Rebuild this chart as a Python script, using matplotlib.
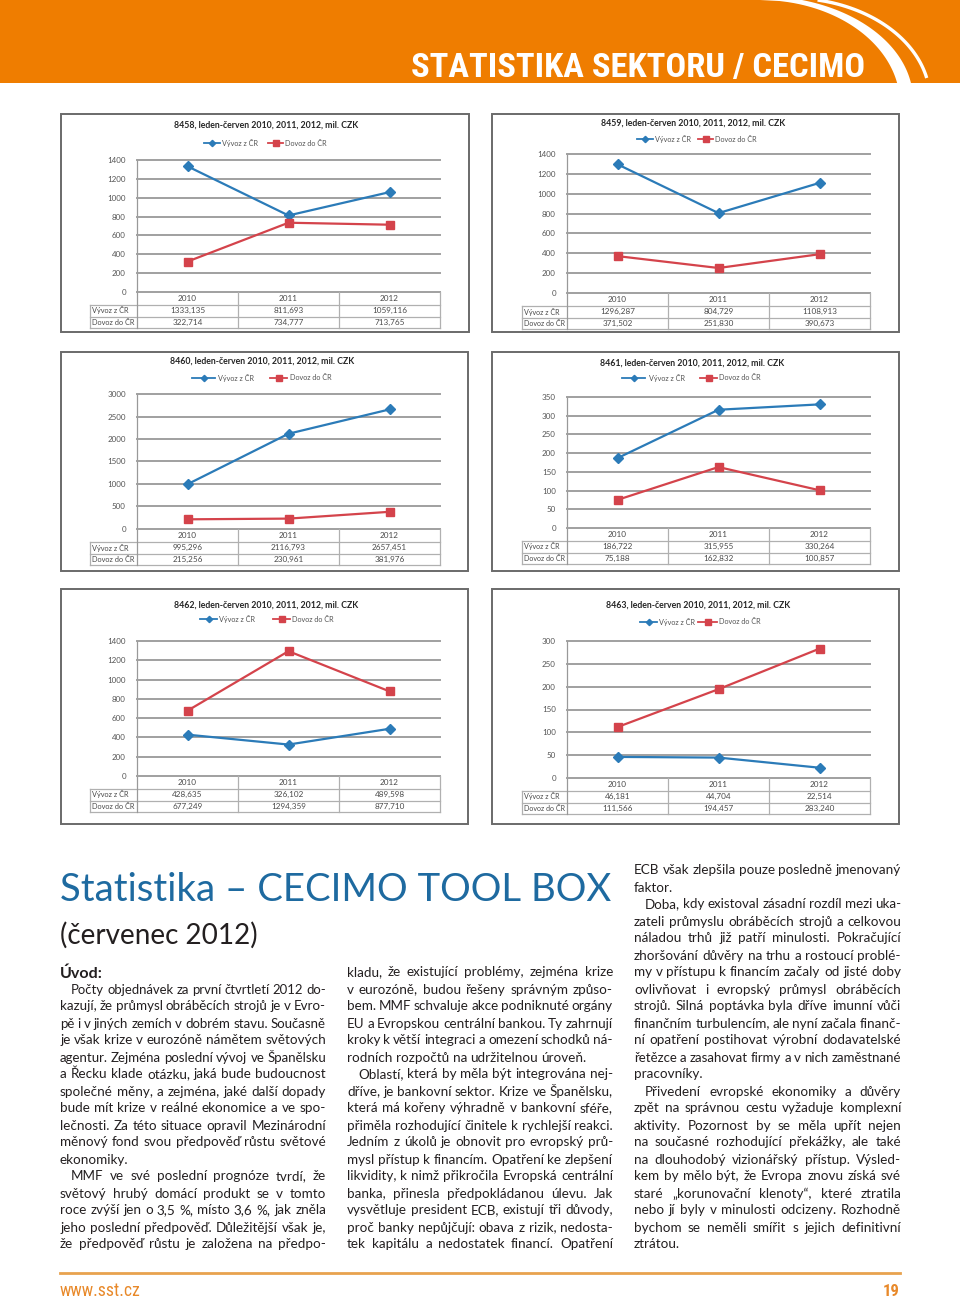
import numpy as np
import matplotlib
matplotlib.use('Agg')
import matplotlib.pyplot as plt
from matplotlib.patches import Rectangle, Polygon
import matplotlib.transforms as mtransforms

# ---------------- data ----------------
years = ['2010', '2011', '2012']
series_labels = ['Vývoz z ČR', 'Dovoz do ČR']
chart_codes = ['8458', '8459', '8460', '8461', '8462', '8463']
title_suffix = ', leden-červen 2010, 2011, 2012, mil. CZK'

vyvoz_8458 = [1333.135, 811.693, 1059.116]
dovoz_8458 = [322.714, 734.777, 713.765]
vyvoz_8459 = [1296.287, 804.729, 1108.913]
dovoz_8459 = [371.502, 251.830, 390.673]
vyvoz_8460 = [995.296, 2116.793, 2657.451]
dovoz_8460 = [215.256, 230.961, 381.976]
vyvoz_8461 = [186.722, 315.955, 330.264]
dovoz_8461 = [75.188, 162.832, 100.857]
vyvoz_8462 = [428.635, 326.102, 489.598]
dovoz_8462 = [677.249, 1294.359, 877.710]
vyvoz_8463 = [46.181, 44.704, 22.514]
dovoz_8463 = [111.566, 194.457, 283.240]

vyvoz_all = [vyvoz_8458, vyvoz_8459, vyvoz_8460, vyvoz_8461, vyvoz_8462, vyvoz_8463]
dovoz_all = [dovoz_8458, dovoz_8459, dovoz_8460, dovoz_8461, dovoz_8462, dovoz_8463]
y_max = [1400, 1400, 3000, 350, 1400, 300]
y_step = [200, 200, 500, 50, 200, 50]

header_text = 'STATISTIKA SEKTORU / CECIMO'
main_title = 'Statistika – CECIMO TOOL BOX'
sub_title = '(červenec 2012)'
intro_head = 'Úvod:'
footer_left = 'www.sst.cz'
footer_right = '19'

col1_paras = [
    (True, False, [
        'Počty objednávek za první čtvrtletí 2012 do-',
        'kazují, že průmysl obráběcích strojů je v Evro-',
        'pě i v jiných zemích v dobrém stavu. Současně',
        'je však krize v eurozóně námětem světových',
        'agentur. Zejména poslední vývoj ve Španělsku',
        'a Řecku klade otázku, jaká bude budoucnost',
        'společné měny, a zejména, jaké další dopady',
        'bude mít krize v reálné ekonomice a ve spo-',
        'lečnosti. Za této situace opravil Mezinárodní',
        'měnový fond svou předpověď růstu světové',
        'ekonomiky.']),
    (True, True, [
        'MMF ve své poslední prognóze tvrdí, že',
        'světový hrubý domácí produkt se v tomto',
        'roce zvýší jen o 3,5 %, místo 3,6 %, jak zněla',
        'jeho poslední předpověď. Důležitější však je,',
        'že předpověď růstu je založena na předpo-']),
]
col2_paras = [
    (False, False, [
        'kladu, že existující problémy, zejména krize',
        'v eurozóně, budou řešeny správným způso-',
        'bem. MMF schvaluje akce podniknuté orgány',
        'EU a Evropskou centrální bankou. Ty zahrnují',
        'kroky k větší integraci a omezení schodků ná-',
        'rodních rozpočtů na udržitelnou úroveň.']),
    (True, True, [
        'Oblastí, která by měla být integrována nej-',
        'dříve, je bankovní sektor. Krize ve Španělsku,',
        'která má kořeny výhradně v bankovní sféře,',
        'přiměla rozhodující činitele k rychlejší reakci.',
        'Jedním z úkolů je obnovit pro evropský prů-',
        'mysl přístup k financím. Opatření ke zlepšení',
        'likvidity, k nimž přikročila Evropská centrální',
        'banka, přinesla předpokládanou úlevu. Jak',
        'vysvětluje president ECB, existují tři důvody,',
        'proč banky nepůjčují: obava z rizik, nedosta-',
        'tek kapitálu a nedostatek financí. Opatření']),
]
col3_paras = [
    (False, False, [
        'ECB však zlepšila pouze posledně jmenovaný',
        'faktor.']),
    (True, False, [
        'Doba, kdy existoval zásadní rozdíl mezi uka-',
        'zateli průmyslu obráběcích strojů a celkovou',
        'náladou trhů již patří minulosti. Pokračující',
        'zhoršování důvěry na trhu a rostoucí problé-',
        'my v přístupu k financím začaly od jisté doby',
        'ovlivňovat i evropský průmysl obráběcích',
        'strojů. Silná poptávka byla dříve imunní vůči',
        'finančním turbulencím, ale nyní začala finanč-',
        'ní opatření postihovat výrobní dodavatelské',
        'řetězce a zasahovat firmy a v nich zaměstnané',
        'pracovníky.']),
    (True, False, [
        'Přivedení evropské ekonomiky a důvěry',
        'zpět na správnou cestu vyžaduje komplexní',
        'aktivity. Pozornost by se měla upřít nejen',
        'na současné rozhodující překážky, ale také',
        'na dlouhodobý vizionářský přístup. Výsled-',
        'kem by mělo být, že Evropa znovu získá své',
        'staré „korunovační klenoty“, které ztratila',
        'nebo jí byly v minulosti odcizeny. Rozhodně',
        'bychom se neměli smířit s jejich definitivní',
        'ztrátou.']),
]

# ---------------- style / layout ----------------
W, H = 960, 1301
FONT = 'Lato'
plt.rcParams['font.family'] = [FONT, 'DejaVu Sans']
ORANGE = '#ef7d00'
BLUE = '#2b7bb8'
RED = '#d4434b'
GRID = '#a0a0a0'
TBL = '#b0b0b0'
CHART_TXT = '#4a4a4a'

fig = plt.figure(figsize=(W / 100, H / 100), dpi=100)
bg = fig.add_axes([0, 0, 1, 1])
bg.set_xlim(0, W)
bg.set_ylim(H, 0)
bg.axis('off')
renderer = fig.canvas.get_renderer()

COND = ['Liberation Sans Narrow', 'Roboto Condensed', 'Open Sans Condensed', FONT, 'DejaVu Sans']


def measure(s, size, family=None, weight='normal'):
    fam = family if family is not None else [FONT, 'DejaVu Sans']
    t = bg.text(0, 0, s, fontsize=size, family=fam, weight=weight)
    w = t.get_window_extent(renderer=renderer).width
    t.remove()
    return w


def fit(s, width, family=None, weight='normal', base=20.0):
    return base * width / measure(s, base, family, weight)


# ---------------- header ----------------
bg.add_patch(Rectangle((0, 0), W, 83, color=ORANGE, lw=0))
yy = np.linspace(0, 83, 80)
cx, cy = 760, 100
xo = cx + 153 * np.sqrt(np.clip(1 - ((yy - cy) / 104) ** 2, 0, 1))
xi = cx + 140 * np.sqrt(np.clip(1 - ((yy - 104) / 104) ** 2, 0, 1))
pts = np.vstack([np.column_stack([xo, yy]), np.column_stack([xi[::-1], yy[::-1]])])
bg.add_patch(Polygon(pts, closed=True, color='white', lw=0))
yt = np.linspace(0, 78, 60)
xt = 790 + 140 * np.sqrt(np.clip(1 - ((yt - 100) / 102) ** 2, 0, 1))
bg.plot(xt, yt, color='white', lw=2.4, solid_capstyle='butt')

hs = fit(header_text, 453, family=COND, weight='bold')
bg.text(865, 77, header_text, fontsize=min(hs, 27), family=COND, weight='bold',
        color='white', ha='right', va='baseline')

# ---------------- charts ----------------
panels = [(61, 114, 469, 332), (492, 114, 899, 332), (61, 352, 468, 571),
          (492, 352, 899, 571), (61, 589, 468, 824), (492, 589, 899, 824)]
plots = [(137, 160, 440, 292), (567, 154, 870, 293), (137, 394, 440, 529),
         (567, 397, 870, 528), (137, 641, 440, 776), (567, 641, 870, 778)]
table_left = [90, 522, 90, 522, 90, 522]
title_pos = [(266, 125), (693, 123), (262, 361), (692, 363), (266, 605), (698, 605)]
legend_pos = [((204, 220, 222), (268, 283, 285), 143),
              ((637, 653, 655), (698, 713, 715), 139),
              ((192, 215, 218), (270, 287, 290), 378),
              ((622, 645, 649), (700, 717, 719), 378),
              ((200, 217, 219), (273, 290, 292), 619),
              ((640, 657, 659), (698, 717, 719), 622)]
LEG_FS = fit(series_labels[1], 42)

for i in range(6):
    px0, py0, px1, py1 = panels[i]
    bg.add_patch(Rectangle((px0, py0), px1 - px0, py1 - py0, facecolor='white',
                           edgecolor='#6a6a6a', lw=1.4))
    l, t, r, b = plots[i]
    ax = fig.add_axes([l / W, 1 - b / H, (r - l) / W, (b - t) / H])
    ax.patch.set_alpha(0)
    x = np.arange(len(years))
    ax.set_xlim(-0.5, len(years) - 0.5)
    ax.set_ylim(0, y_max[i])
    ax.set_yticks(np.arange(0, y_max[i] + 1, y_step[i]))
    ax.set_xticks([])
    for sp in ax.spines.values():
        sp.set_visible(False)
    ax.yaxis.grid(True, color=GRID, lw=1.4)
    for gl in ax.get_ygridlines():
        gl.set_clip_on(False)
    ax.set_axisbelow(True)
    ax.tick_params(axis='y', length=0, pad=8, labelsize=5.8, labelcolor='#555555')
    ax.plot(x, vyvoz_all[i], color=BLUE, lw=1.6, marker='D', ms=4.8, zorder=3, clip_on=False)
    ax.plot(x, dovoz_all[i], color=RED, lw=1.6, marker='s', ms=5.8, zorder=3, clip_on=False)

    # title
    ttl = chart_codes[i] + title_suffix
    tx, ty = title_pos[i]
    bg.text(tx, ty, ttl, fontsize=fit(ttl, 186, weight='bold'), weight='bold',
            color='#262626', ha='center', va='center')
    # legend
    (b0, b1, bt), (r0, r1, rt), ly = legend_pos[i]
    bg.plot([b0, b1], [ly, ly], color=BLUE, lw=1.3)
    bg.plot([(b0 + b1) / 2], [ly], color=BLUE, marker='D', ms=3.2)
    bg.text(bt, ly, series_labels[0], fontsize=LEG_FS, color='#555555', va='center', ha='left')
    bg.plot([r0, r1], [ly, ly], color=RED, lw=1.3)
    bg.plot([(r0 + r1) / 2], [ly], color=RED, marker='s', ms=3.8)
    bg.text(rt, ly, series_labels[1], fontsize=LEG_FS, color='#555555', va='center', ha='left')

    # data table
    tr = mtransforms.blended_transform_factory(ax.transData, bg.transData)
    y_axis = b
    y_l1, y_l2, y_l3 = b + 12.5, b + 24.5, b + 36
    tl = table_left[i]
    for yl in (y_l1, y_l2, y_l3):
        bg.plot([tl, r], [yl, yl], color=TBL, lw=0.9)
    bg.plot([tl, tl], [y_l1, y_l3], color=TBL, lw=0.9)
    bg.plot([l, l], [t, y_l3], color='#999999', lw=0.9)
    for xb in np.arange(len(years) + 1)[1:] - 0.5:
        ax.plot([xb, xb], [y_axis, y_l3], color=TBL, lw=0.9, transform=tr, clip_on=False)
    for j, yr in enumerate(years):
        ax.text(j, b + 6.5, yr, transform=tr, ha='center', va='center', fontsize=5.9, color=CHART_TXT)
        ax.text(j, b + 18.5, f'{vyvoz_all[i][j]:.3f}'.replace('.', ','), transform=tr,
                ha='center', va='center', fontsize=5.9, color=CHART_TXT)
        ax.text(j, b + 30.5, f'{dovoz_all[i][j]:.3f}'.replace('.', ','), transform=tr,
                ha='center', va='center', fontsize=5.9, color=CHART_TXT)
    lab_w = l - tl - 4
    for k, yv in enumerate((b + 18.5, b + 30.5)):
        bg.text(tl + 2, yv, series_labels[k], fontsize=min(5.6, fit(series_labels[1], lab_w)),
                color=CHART_TXT, va='center', ha='left')

# ---------------- article ----------------
TITLE_BLUE = '#1e6aa0'
bg.text(60, 901, main_title, fontsize=fit(main_title, 550), color=TITLE_BLUE,
        ha='left', va='baseline')
bg.text(60, 944, sub_title, fontsize=fit(sub_title, 198), color='#231f20',
        ha='left', va='baseline')
bg.text(60, 978, intro_head, fontsize=fit(intro_head, 43, weight='bold'), weight='bold',
        color='#231f20', ha='left', va='baseline')

columns = [(60, 326, 989.5, col1_paras), (347, 613, 972.5, col2_paras), (634, 901, 870.5, col3_paras)]
INDENT = 11
LEAD = 17.0

# body size: most justified lines fit comfortably; tight ones get squeezed slightly
base = 10.0
sp_base = measure('a a', base) - measure('aa', base)
ratios = []
for x0, x1, y0, paras in columns:
    for indent, lastj, lines in paras:
        for k, line in enumerate(lines):
            if k == len(lines) - 1 and not lastj:
                continue
            words = line.split()
            nat = sum(measure(w, base) for w in words) + sp_base * (len(words) - 1)
            avail = (x1 - x0) - (INDENT if (indent and k == 0) else 0)
            ratios.append(nat / avail)
BODY = base / np.percentile(ratios, 80)
space = measure('a a', BODY) - measure('aa', BODY)

for x0, x1, y0, paras in columns:
    y = y0 + 4
    for indent, lastj, lines in paras:
        for k, line in enumerate(lines):
            xs = x0 + (INDENT if (indent and k == 0) else 0)
            words = line.split()
            size = BODY
            ws = [measure(w, size) for w in words]
            justify = (k < len(lines) - 1) or lastj
            avail = x1 - xs
            gmin = 0.8 * space
            if justify and sum(ws) + gmin * (len(words) - 1) > avail:
                size = BODY * (avail - gmin * (len(words) - 1)) / sum(ws)
                ws = [measure(w, size) for w in words]
            if justify and len(words) > 1:
                gap = (avail - sum(ws)) / (len(words) - 1)
            else:
                gap = space
            xx = xs
            for w, ww in zip(words, ws):
                bg.text(xx, y, w, fontsize=size, color='#231f20', ha='left', va='baseline')
                xx += ww + gap
            y += LEAD

# ---------------- footer ----------------
bg.plot([60, 900], [1273, 1273], color='#e8a24e', lw=2.0)
bg.text(60, 1296, footer_left, fontsize=fit(footer_left, 81, family=COND), family=COND,
        color='#e8892a', ha='left', va='baseline')
bg.text(900, 1296, footer_right, fontsize=fit(footer_right, 17, family=COND, weight='bold'),
        family=COND, weight='bold', color='#e8892a', ha='right', va='baseline')

fig.savefig('out.png', dpi=100)
